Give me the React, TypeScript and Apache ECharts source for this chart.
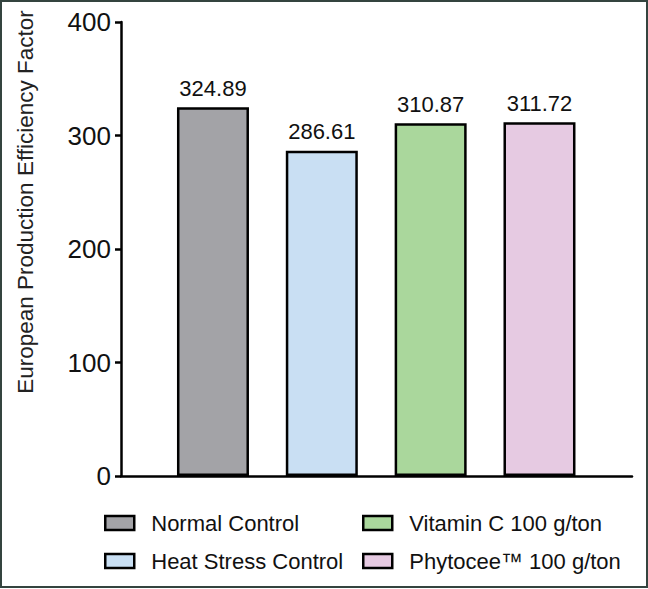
import React, { useEffect, useRef } from "react";
import * as echarts from "echarts";

const categories = ["Normal Control", "Heat Stress Control", "Vitamin C 100 g/ton", "Phytocee™ 100 g/ton"];
const values = [324.89, 286.61, 310.87, 311.72];
const colors = ["#A3A3A7", "#C9DFF3", "#AAD79C", "#E6CAE2"];
const yTicks = [0, 100, 200, 300, 400];
const yName = "European Production Efficiency Factor";

const FONT = "Liberation Sans, Arial, sans-serif";

export default function App() {
  const ref = useRef<HTMLDivElement>(null);
  useEffect(() => {
    if (!ref.current) return;
    const chart = echarts.init(ref.current, undefined, { renderer: "svg" });
    const series = categories.map((name, i) => ({
      type: "bar",
      name,
      data: [[i, values[i]]],
      barWidth: 72,
      barGap: "-100%",
      itemStyle: { color: colors[i], borderColor: "#000", borderWidth: 2.5 },
      label: {
        show: true,
        position: "top",
        distance: 8,
        formatter: () => values[i].toFixed(2),
        fontSize: 22,
        color: "#111",
        fontFamily: FONT,
      },
    }));
    const legendCommon = {
      orient: "vertical",
      padding: 0,
      itemWidth: 29,
      itemHeight: 14,
      itemGap: 16,
      icon: "rect",
      textStyle: { fontSize: 22, color: "#111", fontFamily: FONT, padding: [0, 0, 0, 12] },
      itemStyle: { borderColor: "#000", borderWidth: 2.5 },
      selectedMode: false,
    };
    chart.setOption({
      animation: false,
      backgroundColor: "#fff",
      grid: { left: 121, right: 16, top: 22, bottom: 113 },
      xAxis: {
        type: "value",
        min: -0.845,
        max: 3.85,
        axisLine: { show: true, onZero: false, lineStyle: { color: "#000", width: 2.5 } },
        axisTick: { show: false },
        axisLabel: { show: false },
        splitLine: { show: false },
      },
      yAxis: {
        type: "value",
        min: yTicks[0],
        max: yTicks[yTicks.length - 1],
        interval: 100,
        axisLine: { show: true, onZero: false, lineStyle: { color: "#000", width: 2.5 } },
        axisTick: { show: true, length: 6, lineStyle: { color: "#000", width: 2.5 } },
        axisLabel: { fontSize: 26, color: "#111", fontFamily: FONT, margin: 10 },
        splitLine: { show: false },
      },
      legend: [
        { ...legendCommon, left: 104, top: 512, data: [categories[0], categories[1]] },
        { ...legendCommon, left: 362, top: 512, data: [categories[2], categories[3]] },
      ],
      graphic: [
        {
          type: "text",
          x: 25,
          y: 202,
          rotation: Math.PI / 2,
          style: {
            text: yName,
            fontSize: 22.5,
            fontFamily: FONT,
            fill: "#222",
            textAlign: "center",
            textVerticalAlign: "middle",
          },
        },
        {
          type: "rect",
          shape: { x: 1, y: 1, width: 646, height: 586 },
          style: { fill: "none", stroke: "#34443f", lineWidth: 2 },
          silent: true,
        },
      ],
      series,
    });
    return () => chart.dispose();
  }, []);
  return (
    <div
      ref={ref}
      style={{ position: "absolute", left: 0, top: 0, width: 648, height: 589 }}
    />
  );
}
